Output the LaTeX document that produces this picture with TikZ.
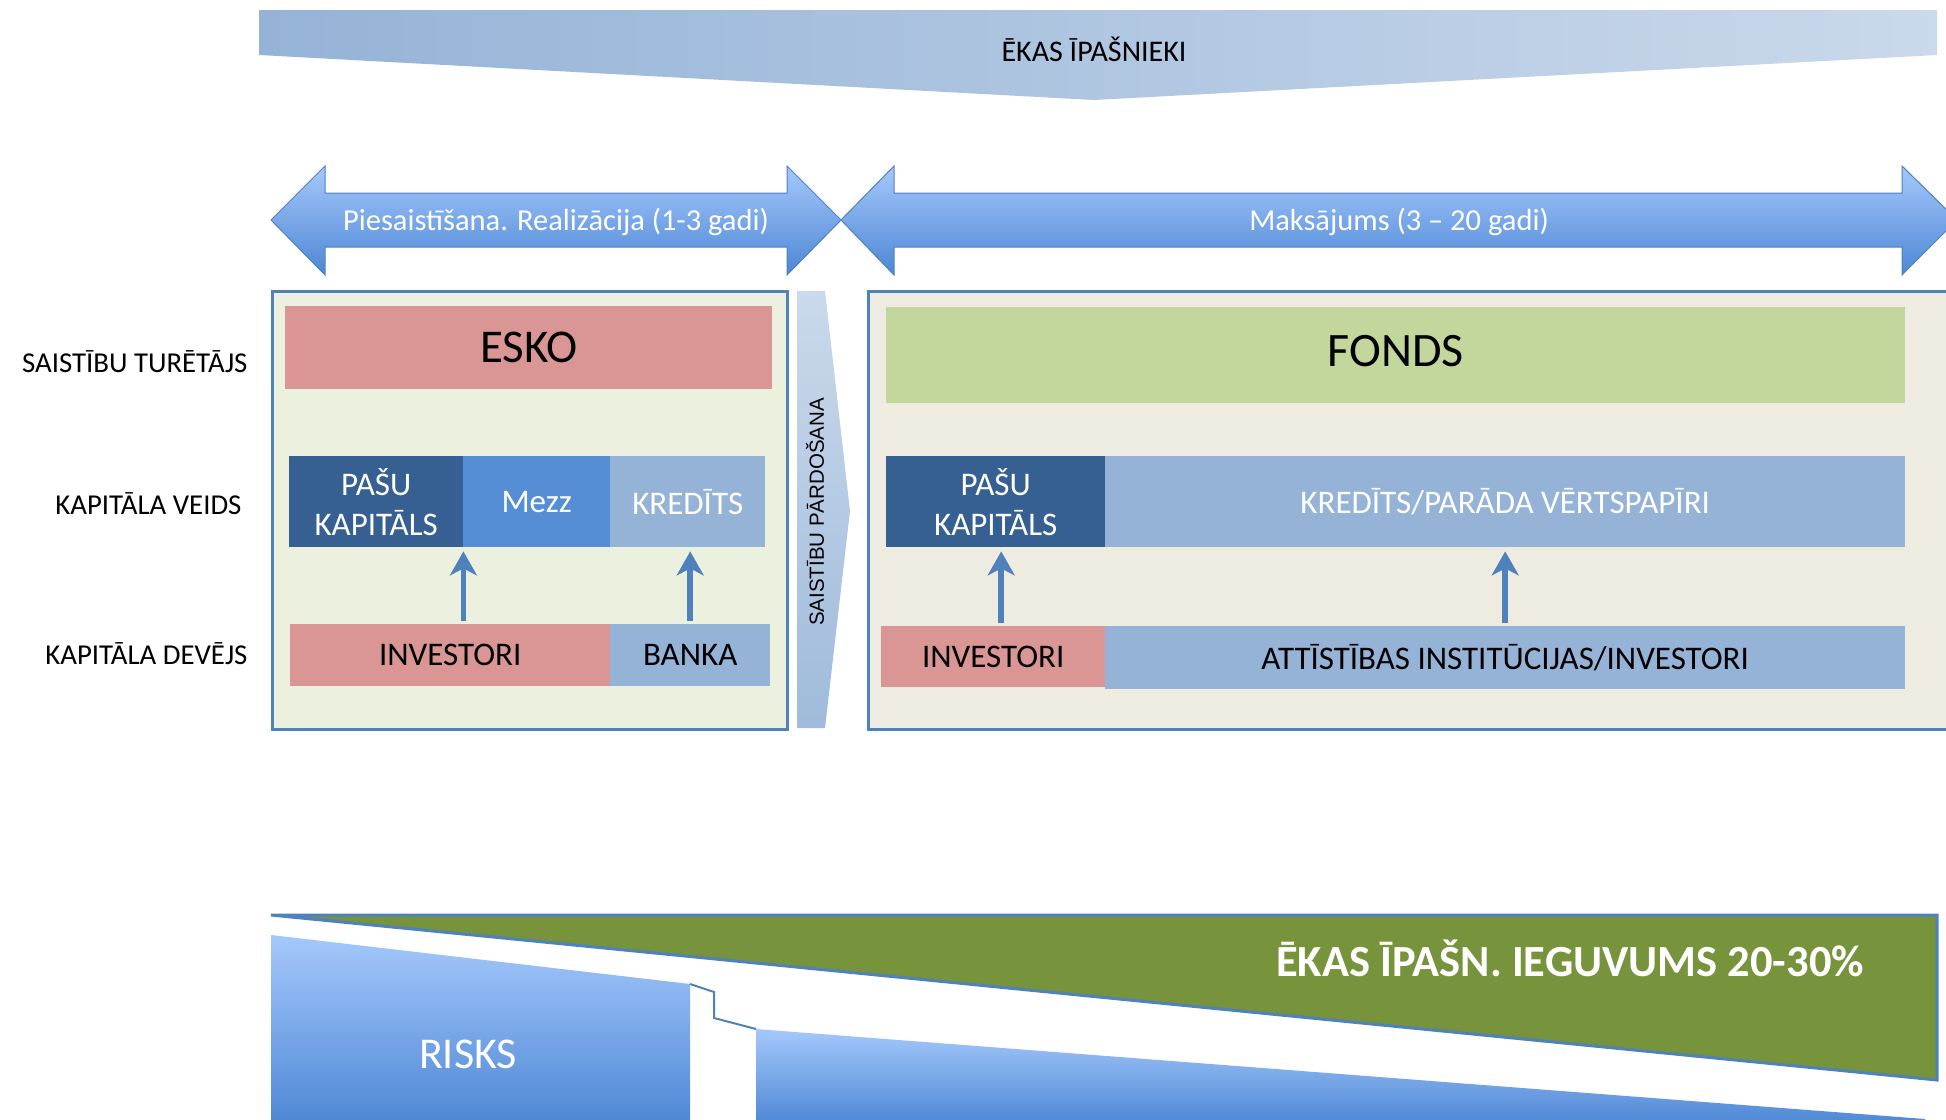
\documentclass[tikz,border=0pt]{standalone}
\usepackage{fontspec}
\setmainfont{Carlito}
\newfontfamily\arialfont{Liberation Sans}
\usetikzlibrary{arrows.meta}

\definecolor{edgeblue}{HTML}{4F81BD}
\definecolor{eskored}{HTML}{D99694}
\definecolor{fondsgreen}{HTML}{C3D69B}
\definecolor{darkblue}{HTML}{376092}
\definecolor{midblue}{HTML}{558ED5}
\definecolor{paleblue}{HTML}{95B3D7}
\definecolor{eskobg}{HTML}{EBF1DE}
\definecolor{fondsbg}{HTML}{EEECE1}
\definecolor{olive}{HTML}{77933C}
\definecolor{arrowtop}{HTML}{A5C8FB}
\definecolor{arrowmid}{HTML}{8CB6F3}
\definecolor{arrowbot}{HTML}{4D87D5}

\tikzset{
	cell/.style={inner sep=0pt, anchor=north west, align=center, font=\fontsize{33}{40}\selectfont},
	rowlabel/.style={anchor=east, font=\fontsize{28.8}{34}\selectfont},
	box/.style={draw=edgeblue, line width=2.5pt, anchor=north west, inner sep=0pt},
	upar/.style={edgeblue, line width=5.5pt, shorten >=4pt, shorten <=3pt, -{Stealth[length=24pt,width=27pt,inset=7pt]}},
	bluefade/.style={top color=arrowtop, middle color=arrowmid, bottom color=arrowbot}
}

\begin{document}
\begin{tikzpicture}[x=1pt,y=-1pt]
	\useasboundingbox (0,0) rectangle (1946,1119);
	\clip (0,0) rectangle (1946,1119);

	%banner
	\shade[left color=paleblue, right color=paleblue!50!white] (259,10)--(1937,10)--(1937,55)--(1094,100)--(259,55)--cycle;
	\node[font=\fontsize{30}{34}\selectfont] (owners) at (1094,49) {ĒKAS ĪPAŠNIEKI};

	%double arrows
	\shade[bluefade, draw=edgeblue, line width=1pt] (271,220)--(325,166)--(325,193)--(787,193)--(787,166)--(841,220)--(787,275)--(787,247)--(325,247)--(325,275)--cycle;
	\shade[bluefade, draw=edgeblue, line width=1pt] (841,220)--(894,166)--(894,193)--(1902,193)--(1902,166)--(1957,220)--(1902,275)--(1902,247)--(894,247)--(894,275)--cycle;
	\node[white, font=\fontsize{30.5}{34}\selectfont] (phase1) at (556,222) {Piesaistīšana. Realizācija (1-3 gadi)};
	\node[white, font=\fontsize{30.5}{34}\selectfont] (phase2) at (1399,222) {Maksājums (3 – 20 gadi)};

	%row labels
	\node[rowlabel] (holder) at (251,362) {SAISTĪBU TURĒTĀJS};
	\node[rowlabel] (kind) at (245,504) {KAPITĀLA VEIDS};
	\node[rowlabel] (giver) at (251,654) {KAPITĀLA DEVĒJS};

	%containers
	\node[box, fill=eskobg, minimum width=515pt, minimum height=438pt] (eskobox) at (271,290) {};
	\node[box, fill=fondsbg, minimum width=1120pt, minimum height=438pt] (fondsbox) at (867,290) {};

	%sale of liabilities
	\shade[top color=paleblue!50!white, bottom color=paleblue!90!white] (797,291)--(825,291)--(850,511)--(825,728)--(797,728)--cycle;
	\node[rotate=90, font=\arialfont\fontsize{20.5}{24}\selectfont] (sale) at (815,512) {SAISTĪBU PĀRDOŠANA};

	%ESKO side
	\node[cell, fill=eskored, minimum width=487pt, minimum height=83pt, font=\fontsize{47}{52}\selectfont] (esko) at (285,306) {ESKO};
	\node[cell, fill=darkblue, text=white, minimum width=174pt, minimum height=91pt] (pk1) at (289,456) {PAŠU\\KAPITĀLS};
	\node[cell, fill=midblue, text=white, minimum width=147pt, minimum height=91pt] (mezz1) at (463,456) {Mezz};
	\node[cell, fill=paleblue, text=white, minimum width=155pt, minimum height=91pt] (kred1) at (610,456) {KREDĪTS};
	\node[cell, fill=eskored, minimum width=320pt, minimum height=62pt] (inv1) at (290,624) {INVESTORI};
	\node[cell, fill=paleblue, minimum width=160pt, minimum height=62pt] (bank1) at (610,624) {BANKA};
	\draw[upar] (inv1.north -| pk1.east) -- (pk1.south east);
	\draw[upar] (bank1.north) -- (bank1.north |- kred1.south);

	%FONDS side
	\node[cell, fill=fondsgreen, minimum width=1019pt, minimum height=96pt, font=\fontsize{48}{52}\selectfont] (fonds) at (886,307) {FONDS\vphantom{g}};
	\node[cell, fill=darkblue, text=white, minimum width=219pt, minimum height=91pt] (pk2) at (886,456) {PAŠU\\KAPITĀLS};
	\node[cell, fill=paleblue, text=white, minimum width=800pt, minimum height=91pt] (kred2) at (1105,456) {KREDĪTS/PARĀDA VĒRTSPAPĪRI};
	\node[cell, fill=eskored, minimum width=224pt, minimum height=61pt] (inv2) at (881,626) {INVESTORI};
	\node[cell, fill=paleblue, minimum width=800pt, minimum height=63pt] (inst2) at (1105,626) {ATTĪSTĪBAS INSTITŪCIJAS/INVESTORI};
	\draw[upar] ([xshift=8pt]inv2.north) -- ([xshift=8pt]inv2.north |- pk2.south);
	\draw[upar] (inst2.north) -- (kred2.south);

	%gain and risk
	\filldraw[fill=olive, draw=edgeblue, line width=3pt] (271,915)--(1937,915)--(1937,1080)--cycle;
	\node[white, font=\bfseries\fontsize{44.5}{50}\selectfont] (gain) at (1570,958) {ĒKAS ĪPAŠN. IEGUVUMS 20-30\%};
	\shade[bluefade] (271,935)--(690,984)--(690,1125)--(271,1125)--cycle;
	\shade[bluefade] (756,1029)--(1925,1119)--(1925,1125)--(756,1125)--cycle;
	\draw[edgeblue, line width=2pt] (690,984)--(714,992)--(714,1018)--(756,1029);
	\node[white, font=\fontsize{44}{50}\selectfont] (risk) at (468,1054) {RISKS};
\end{tikzpicture}
\end{document}
